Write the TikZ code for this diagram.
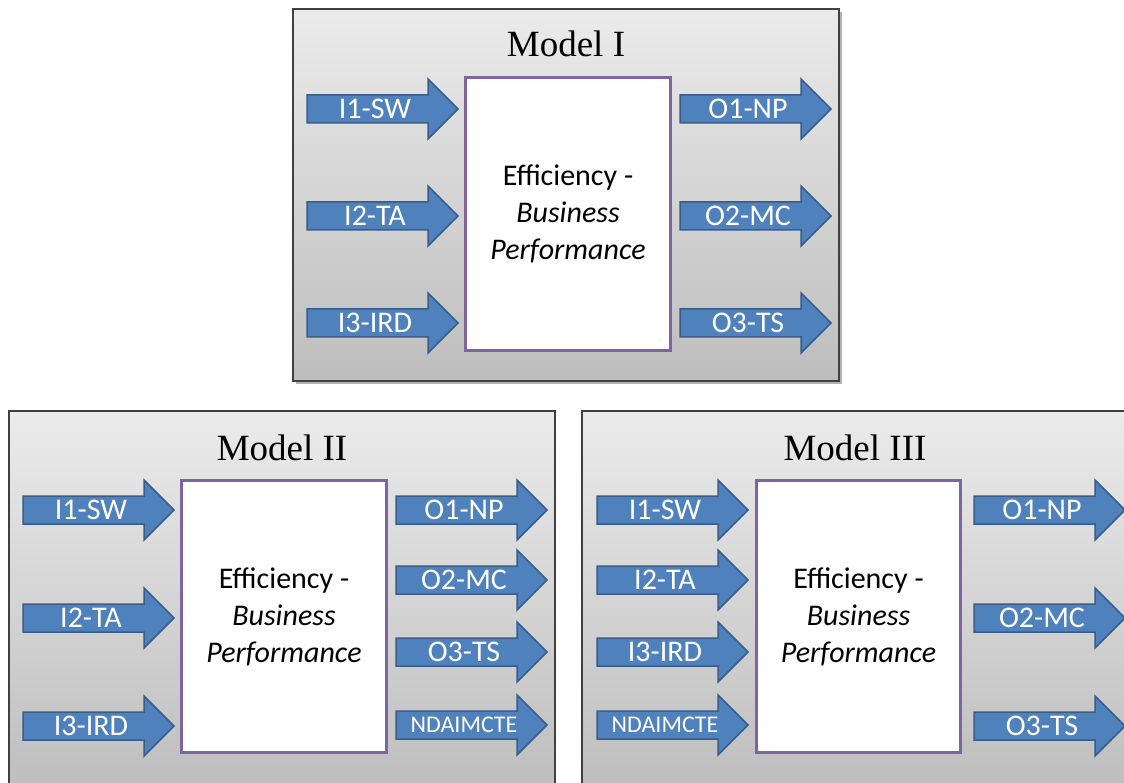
\documentclass[tikz,border=0pt]{standalone}
\usepackage{fontspec}
\setmainfont{Carlito}
\newfontfamily\titlefont{Liberation Serif}
\definecolor{paneltop}{HTML}{EBEBEB}
\definecolor{panelbot}{HTML}{BDBDBD}
\definecolor{arrowfill}{HTML}{4F81BD}
\definecolor{arrowedge}{HTML}{385D8A}
\definecolor{corepurple}{HTML}{8064A2}
\tikzset{
  panel/.style={draw=black!75, line width=1.2pt, top color=paneltop, bottom color=panelbot},
  panelshadow/.style={fill=black!30},
  arrowbody/.style={fill=arrowfill, draw=arrowedge, line width=1.5pt, line join=miter},
  arrowlabel/.style={text=white, font=\fontsize{30}{36}\selectfont, inner sep=0pt, anchor=center},
  smalllabel/.style={arrowlabel, font=\fontsize{24}{29}\selectfont},
  corebox/.style={draw=corepurple, line width=3pt, fill=white, align=center,
    font=\fontsize{30}{37}\selectfont, inner sep=0pt},
  modeltitle/.style={font=\titlefont\fontsize{37}{44}\selectfont, anchor=base, inner sep=0pt},
}
\newcommand\bluearrow[5]{%
  \draw[arrowbody] (#2,#3-14) -- (#2+121,#3-14) -- (#2+121,#3-30) -- (#2+151,#3)
    -- (#2+121,#3+30) -- (#2+121,#3+14) -- (#2,#3+14) -- cycle;
  \node[#4] (#1) at (#2+68,#3) {#5};
}
\begin{document}
\begin{tikzpicture}[x=1pt,y=-1pt]
\useasboundingbox (0,0) rectangle (1124,783);
\clip (0,0) rectangle (1124,783);
\fill[white] (0,0) rectangle (1124,783);
% ---------- Model I ----------
\fill[panelshadow] (296,12) rectangle (842,384);
\shade[panel] (293,9) rectangle (839,381);
\node[modeltitle] (t1) at (566,57) {Model I};
\node[corebox, minimum width=205pt, minimum height=273pt] (c1) at (568,214)
  {Efficiency -\\\textit{Business}\\\textit{Performance}};
\bluearrow{a1i1}{307}{109}{arrowlabel}{I1-SW}
\bluearrow{a1i2}{307}{216}{arrowlabel}{I2-TA}
\bluearrow{a1i3}{307}{323}{arrowlabel}{I3-IRD}
\bluearrow{a1o1}{680}{109}{arrowlabel}{O1-NP}
\bluearrow{a1o2}{680}{216}{arrowlabel}{O2-MC}
\bluearrow{a1o3}{680}{323}{arrowlabel}{O3-TS}
% ---------- Model II ----------
\shade[panel] (9,411) rectangle (555,795);
\node[modeltitle] (t2) at (282,460) {Model II};
\node[corebox, minimum width=205pt, minimum height=272pt] (c2) at (284,616.5)
  {Efficiency -\\\textit{Business}\\\textit{Performance}};
\bluearrow{a2i1}{23}{510}{arrowlabel}{I1-SW}
\bluearrow{a2i2}{23}{618}{arrowlabel}{I2-TA}
\bluearrow{a2i3}{23}{726}{arrowlabel}{I3-IRD}
\bluearrow{a2o1}{396}{510}{arrowlabel}{O1-NP}
\bluearrow{a2o2}{396}{580}{arrowlabel}{O2-MC}
\bluearrow{a2o3}{396}{652}{arrowlabel}{O3-TS}
\bluearrow{a2o4}{396}{725}{smalllabel}{NDAIMCTE}
% ---------- Model III ----------
\shade[panel] (582,411) rectangle (1130,795);
\node[modeltitle] (t3) at (855,460) {Model III};
\node[corebox, minimum width=204pt, minimum height=272pt] (c3) at (858.5,616.5)
  {Efficiency -\\\textit{Business}\\\textit{Performance}};
\bluearrow{a3i1}{597}{510}{arrowlabel}{I1-SW}
\bluearrow{a3i2}{597}{580}{arrowlabel}{I2-TA}
\bluearrow{a3i3}{597}{652}{arrowlabel}{I3-IRD}
\bluearrow{a3i4}{597}{725}{smalllabel}{NDAIMCTE}
\bluearrow{a3o1}{974}{510}{arrowlabel}{O1-NP}
\bluearrow{a3o2}{974}{618}{arrowlabel}{O2-MC}
\bluearrow{a3o3}{974}{726}{arrowlabel}{O3-TS}
\end{tikzpicture}
\end{document}
